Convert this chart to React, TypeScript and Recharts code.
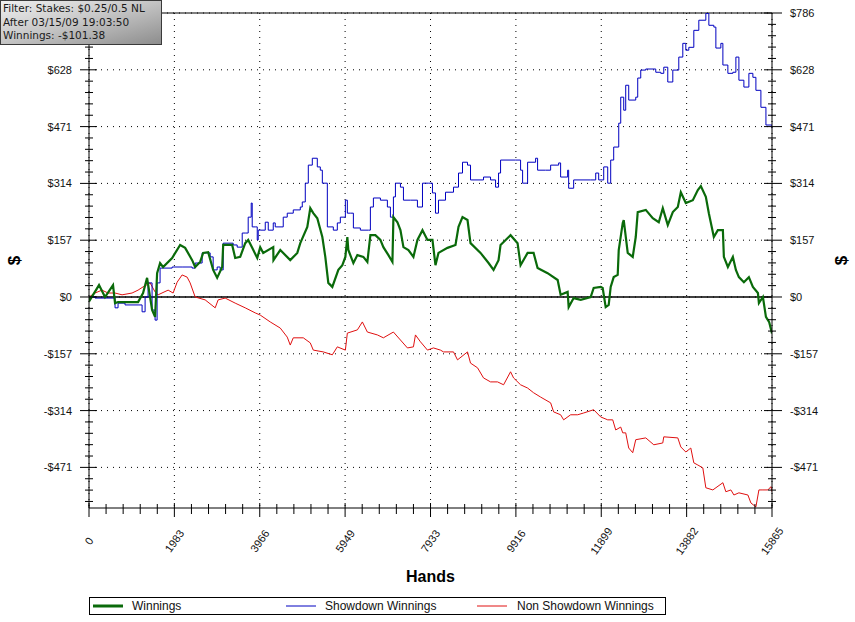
import React from "react";
import {
  CartesianGrid,
  Legend,
  Line,
  LineChart,
  ReferenceLine,
  XAxis,
  YAxis,
} from "recharts";

// axis limits and major ticks, as printed on the chart
const HANDS_MAX = 15865;
const Y_MIN = -584;
const Y_MAX = 786;
const xMajorTicks = [0, 1983, 3966, 5949, 7933, 9916, 11899, 13882, 15865];
const yMajorTicks = [-471.6, -314.4, -157.2, 0, 157.2, 314.4, 471.6, 628.8, 786];

const filterLines = [
  "Filter: Stakes: $0.25/0.5 NL",
  "After 03/15/09 19:03:50",
  "Winnings: -$101.38",
];

// [hands, dollars]
const winnings: [number, number][] = [
  [0, 0], [23, -8], [233, 33], [372, 0], [558, 33], [605, -17], [675, -14],
  [1140, -14], [1256, 11], [1349, 53], [1419, 0], [1465, -36], [1535, -55],
  [1582, 66], [1651, 94], [1721, 83], [1931, 108], [2117, 144], [2233, 136],
  [2396, 102], [2466, 83], [2582, 97], [2652, 122], [2768, 124], [2884, 75],
  [2977, 53], [3094, 83], [3117, 144], [3326, 144], [3396, 108], [3512, 111],
  [3629, 149], [3698, 158], [3791, 136], [3908, 108], [3977, 138], [4047, 122],
  [4280, 138], [4285, 102], [4443, 130], [4675, 102], [4838, 122], [4908, 149],
  [5071, 194], [5140, 246], [5210, 232], [5303, 218], [5420, 166], [5489, 111],
  [5559, 39], [5652, 28], [5792, 75], [5885, 88], [5955, 111], [6001, 166],
  [6024, 130], [6141, 94], [6234, 116], [6373, 111], [6466, 97], [6536, 171],
  [6652, 171], [6769, 158], [6838, 138], [6955, 116], [7048, 97], [7071, 221],
  [7164, 207], [7234, 185], [7304, 138], [7420, 130], [7536, 111], [7629, 158],
  [7746, 185], [7862, 158], [7978, 158], [8048, 88], [8118, 122], [8327, 136],
  [8513, 144], [8583, 194], [8676, 221], [8792, 213], [8862, 149], [9095, 122],
  [9281, 94], [9397, 75], [9513, 102], [9560, 144], [9792, 171], [9955, 149],
  [10025, 88], [10188, 122], [10327, 122], [10420, 80], [10653, 66],
  [10886, 47], [10955, 6], [11118, 14], [11142, -28], [11258, -3],
  [11421, -8], [11653, 0], [11723, 25], [11886, 28], [11932, 25],
  [12002, -28], [12072, -22], [12118, 28], [12188, 55], [12281, 61],
  [12305, 130], [12398, 205], [12421, 213], [12514, 122], [12630, 111],
  [12700, 166], [12746, 235], [12933, 241], [13095, 218], [13235, 207],
  [13328, 246], [13444, 199], [13561, 235], [13677, 249], [13747, 290],
  [13863, 260], [14026, 268], [14142, 296], [14212, 307], [14328, 277],
  [14398, 232], [14514, 166], [14607, 185], [14724, 185], [14747, 111],
  [14840, 83], [14956, 111], [15026, 75], [15096, 55], [15212, 41],
  [15328, 55], [15421, 28], [15538, 11], [15561, -17], [15654, 0],
  [15724, -55], [15800, -70], [15865, -101],
];

const showdown: [number, number][] = [
  [0, 0], [140, -3], [372, -3], [605, -30], [675, -17], [837, -22],
  [1140, -22], [1233, -41], [1303, 0], [1372, 39], [1465, -36], [1535, -64],
  [1582, 39], [1651, 80], [1931, 83], [2163, 83], [2396, 80], [2466, 94],
  [2628, 122], [2814, 111], [2884, 75], [2977, 83], [3047, 75], [3117, 149],
  [3349, 144], [3442, 138], [3559, 177], [3629, 177], [3698, 221],
  [3768, 260], [3791, 194], [3861, 194], [3908, 158], [3931, 185],
  [3977, 185], [4094, 207], [4164, 185], [4280, 205], [4326, 194],
  [4512, 221], [4605, 232], [4745, 241], [4908, 249], [4954, 263],
  [5024, 315], [5094, 365], [5187, 384], [5303, 360], [5373, 351],
  [5420, 315], [5536, 194], [5675, 185], [5768, 205], [5838, 221],
  [5955, 268], [6001, 232], [6071, 232], [6141, 191], [6303, 185],
  [6490, 185], [6536, 249], [6606, 274], [6769, 268], [6931, 249],
  [7001, 221], [7071, 277], [7118, 315], [7234, 304], [7304, 268],
  [7467, 268], [7629, 249], [7746, 315], [7885, 315], [7978, 288],
  [8048, 232], [8118, 268], [8281, 290], [8467, 304], [8583, 343],
  [8676, 373], [8792, 365], [8862, 324], [9164, 332], [9327, 324],
  [9444, 304], [9513, 343], [9560, 379], [9909, 379], [10025, 351],
  [10072, 315], [10188, 373], [10374, 384], [10420, 351], [10607, 351],
  [10723, 365], [10909, 371], [10955, 332], [11118, 351], [11142, 301],
  [11258, 324], [11653, 324], [11770, 343], [11839, 324], [11956, 360],
  [12049, 315], [12118, 379], [12188, 415], [12305, 481], [12351, 553],
  [12421, 517], [12467, 586], [12537, 545], [12700, 553], [12746, 606],
  [12816, 628], [12933, 631], [13165, 622], [13281, 619], [13351, 636],
  [13444, 595], [13561, 628], [13677, 628], [13700, 664], [13793, 702],
  [13863, 683], [13933, 691], [14049, 738], [14165, 766], [14328, 785],
  [14398, 752], [14514, 747], [14561, 689], [14677, 702], [14724, 642],
  [14840, 619], [14956, 622], [15026, 664], [15096, 600], [15212, 581],
  [15328, 619], [15421, 608], [15491, 572], [15607, 525], [15724, 476],
  [15865, 467],
];

const nonShowdown: [number, number][] = [
  [0, 0], [140, 11], [302, 19], [442, 11], [605, 11], [768, 6], [1000, 11],
  [1140, 19], [1256, 28], [1419, 39], [1535, 14], [1605, 6], [1838, 19],
  [1954, 11], [2047, 41], [2163, 61], [2279, 55], [2349, 39], [2466, 0],
  [2698, -8], [2931, -30], [3000, -8], [3163, -3], [3396, -17], [3629, -30],
  [3861, -44], [3977, -50], [4210, -69], [4443, -86], [4605, -111],
  [4675, -133], [4745, -113], [4978, -113], [5140, -127], [5210, -147],
  [5443, -152], [5652, -160], [5768, -138], [5955, -147], [6001, -100],
  [6234, -91], [6350, -69], [6466, -97], [6699, -105], [6838, -113],
  [7071, -97], [7234, -119], [7397, -141], [7536, -138], [7583, -105],
  [7699, -124], [7862, -147], [8001, -141], [8164, -147], [8234, -152],
  [8467, -152], [8560, -174], [8792, -152], [8862, -183], [9025, -196],
  [9164, -224], [9327, -235], [9490, -235], [9630, -243], [9792, -207],
  [9862, -224], [10025, -243], [10188, -252], [10327, -265], [10490, -277],
  [10723, -293], [10793, -318], [10955, -326], [11025, -340], [11188, -326],
  [11351, -326], [11491, -321], [11723, -312], [11886, -332], [12049, -340],
  [12165, -340], [12235, -368], [12351, -360], [12398, -376], [12467, -376],
  [12537, -418], [12630, -431], [12700, -395], [12933, -390], [13119, -409],
  [13328, -404], [13351, -387], [13677, -390], [13747, -415], [13863, -429],
  [13979, -418], [14049, -459], [14142, -465], [14258, -473], [14328, -528],
  [14491, -534], [14724, -514], [14793, -539], [14910, -534], [14980, -548],
  [15096, -542], [15305, -548], [15375, -570], [15491, -581], [15561, -534],
  [15654, -534], [15770, -534], [15840, -525], [15865, -539],
];

const toRows = (pts: [number, number][]) => pts.map(([h, v]) => ({ h, v }));

// 4 minor ticks between each pair of majors
function withMinors(majors: number[]) {
  const out: number[] = [];
  for (let i = 0; i < majors.length - 1; i++) {
    const step = (majors[i + 1] - majors[i]) / 5;
    for (let k = 0; k < 5; k++) out.push(majors[i] + k * step);
  }
  out.push(majors[majors.length - 1]);
  return out;
}

const xTicks = withMinors(xMajorTicks);
const yStep = yMajorTicks[1] - yMajorTicks[0];
const yTicks = withMinors(yMajorTicks);
for (let v = yMajorTicks[0] - yStep / 5; v >= Y_MIN; v -= yStep / 5) yTicks.unshift(v);

const isMajor = (list: number[], v: number) => list.some((m) => Math.abs(m - v) < 0.01);
const money = (v: number) => (v < 0 ? `-$${Math.trunc(-v)}` : `$${Math.trunc(v)}`);

const FONT = "'Liberation Sans', Arial, sans-serif";

function LeftTick(props: any) {
  const { x, y, payload } = props;
  const major = isMajor(yMajorTicks, payload.value);
  // the top label sits under the filter box
  const showLabel = major && payload.value < Y_MAX - 1;
  return (
    <g>
      <line x1={x - (major ? 9 : 4)} x2={x + (major ? 8 : 4)} y1={y} y2={y} stroke="#000" />
      {showLabel && (
        <text x={x - 17} y={y} textAnchor="end" dominantBaseline="central" fontSize={11} fontFamily={FONT} fill="#111">
          {money(payload.value)}
        </text>
      )}
    </g>
  );
}

function RightTick(props: any) {
  const { x, y, payload } = props;
  const major = isMajor(yMajorTicks, payload.value);
  return (
    <g>
      <line x1={x - (major ? 8 : 4)} x2={x + (major ? 10 : 4)} y1={y} y2={y} stroke="#000" />
      {major && (
        <text x={x + 18} y={y} textAnchor="start" dominantBaseline="central" fontSize={11} fontFamily={FONT} fill="#111">
          {money(payload.value)}
        </text>
      )}
    </g>
  );
}

function BottomTick(props: any) {
  const { x, y, payload } = props;
  const major = isMajor(xMajorTicks, payload.value);
  const ly = y + 33;
  return (
    <g>
      <line x1={x} x2={x} y1={y - (major ? 5 : 4)} y2={y + (major ? 9 : 6)} stroke="#000" />
      {major && (
        <text
          x={x}
          y={ly}
          textAnchor="middle"
          dominantBaseline="central"
          fontSize={11}
          fontFamily={FONT}
          fill="#111"
          transform={`rotate(-55, ${x}, ${ly})`}
        >
          {Math.round(payload.value)}
        </text>
      )}
    </g>
  );
}

const legendItems = [
  { name: "Winnings", color: "#0a6a0a", width: 3, left: 4, textLeft: 43 },
  { name: "Showdown Winnings", color: "#0000c0", width: 1, left: 197, textLeft: 236 },
  { name: "Non Showdown Winnings", color: "#e01010", width: 1, left: 388, textLeft: 428 },
];

function LegendBox() {
  return (
    <svg width={577} height={18} style={{ display: "block" }}>
      <rect x={0.5} y={0.5} width={576} height={17} fill="#fff" stroke="#000" />
      {legendItems.map((it) => (
        <g key={it.name}>
          <line x1={it.left} x2={it.left + 30} y1={9} y2={9} stroke={it.color} strokeWidth={it.width} />
          <text x={it.textLeft} y={9} dominantBaseline="central" fontFamily={FONT} fontSize={12} fill="#111">
            {it.name}
          </text>
        </g>
      ))}
    </svg>
  );
}

const dollarLabel = { fontFamily: FONT, fontSize: 17, fontWeight: "bold", fill: "#000", textAnchor: "middle" };

export default function App() {
  return (
    <div style={{ position: "absolute", left: 0, top: 0, width: 855, height: 622, background: "#fff" }}>
      <LineChart width={855} height={622} margin={{ top: 13, right: 0, bottom: 54, left: 0 }}>
        <CartesianGrid
          stroke="#000"
          strokeDasharray="1 5"
          horizontalValues={yMajorTicks}
          verticalValues={xMajorTicks}
        />
        <XAxis
          type="number"
          dataKey="h"
          domain={[0, HANDS_MAX]}
          ticks={xTicks}
          interval={0}
          allowDataOverflow
          height={60}
          tickSize={0}
          tickMargin={0}
          tickLine={false}
          axisLine={{ stroke: "#000" }}
          tick={<BottomTick />}
          label={{
            value: "Hands",
            position: "bottom",
            offset: 3,
            style: { fontFamily: FONT, fontSize: 16, fontWeight: "bold", fill: "#000" },
          }}
        />
        <YAxis
          type="number"
          domain={[Y_MIN, Y_MAX]}
          ticks={yTicks}
          interval={0}
          allowDataOverflow
          width={89}
          tickSize={0}
          tickMargin={0}
          tickLine={false}
          axisLine={{ stroke: "#000" }}
          tick={<LeftTick />}
          label={{ value: "$", angle: -90, position: "insideLeft", offset: 14, style: dollarLabel }}
        />
        <YAxis
          yAxisId="right"
          orientation="right"
          type="number"
          domain={[Y_MIN, Y_MAX]}
          ticks={yTicks}
          interval={0}
          allowDataOverflow
          width={83}
          tickSize={0}
          tickMargin={0}
          tickLine={false}
          axisLine={{ stroke: "#000" }}
          tick={<RightTick />}
          label={{ value: "$", angle: -90, position: "insideRight", offset: 14, style: dollarLabel }}
        />
        <ReferenceLine y={Y_MAX} stroke="#000" />
        <ReferenceLine y={0} stroke="#000" strokeWidth={1.3} />
        <Legend
          layout="horizontal"
          verticalAlign="middle"
          align="center"
          content={() => <LegendBox />}
          wrapperStyle={{ left: 89, top: 597, width: 577, height: 18 }}
        />
        <Line
          data={toRows(nonShowdown)}
          dataKey="v"
          name="Non Showdown Winnings"
          stroke="#e01010"
          strokeWidth={1}
          dot={false}
          isAnimationActive={false}
        />
        <Line
          data={toRows(showdown)}
          dataKey="v"
          name="Showdown Winnings"
          type="stepAfter"
          stroke="#0000c0"
          strokeWidth={1}
          dot={false}
          isAnimationActive={false}
        />
        <Line
          data={toRows(winnings)}
          dataKey="v"
          name="Winnings"
          stroke="#0a6a0a"
          strokeWidth={2.2}
          dot={false}
          isAnimationActive={false}
        />
      </LineChart>
      <div
        style={{
          position: "absolute",
          left: 0,
          top: 0,
          width: 158,
          height: 42,
          padding: "1px 0 0 2px",
          border: "1px solid #3a3a3a",
          background: "linear-gradient(165deg, #efefef 0%, #c9c9c9 45%, #8d8d8d 100%)",
          fontFamily: "'DejaVu Sans', Verdana, sans-serif",
          fontSize: 10.5,
          lineHeight: "13.5px",
          color: "#1a1a1a",
          whiteSpace: "nowrap",
          overflow: "hidden",
        }}
      >
        {filterLines.map((t) => (
          <div key={t}>{t}</div>
        ))}
      </div>
    </div>
  );
}
